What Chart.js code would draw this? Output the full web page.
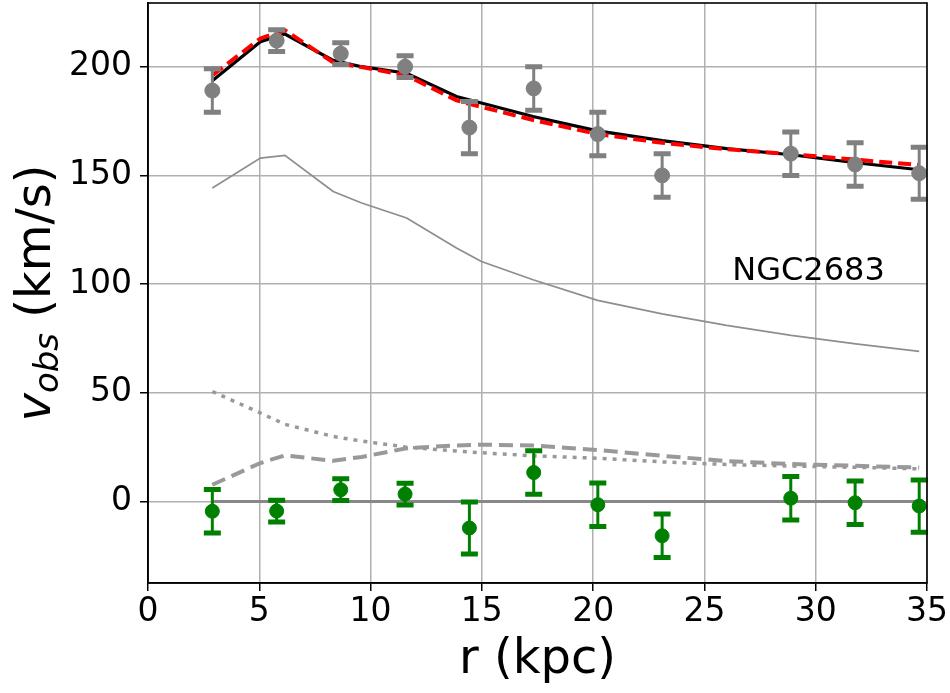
<!DOCTYPE html>
<html>
<head>
<meta charset="utf-8">
<script src="https://cdn.jsdelivr.net/npm/chart.js@4"></script>
<style>
  html, body { margin: 0; padding: 0; background: #fff; }
</style>
</head>
<body>
<canvas id="rcChart" width="950" height="693"></canvas>
<script>
// observed points (kpc, km/s)
const obsR = [2.89, 5.78, 8.66, 11.55, 14.44, 17.33, 20.21, 23.1, 28.88, 31.77, 34.65];
const obsV = [189, 212, 206, 200, 172, 190, 169, 150, 160, 155, 151];
const obsErr = [10, 5, 5, 5, 12, 10, 10, 10, 10, 10, 12];
// residuals obs - model
const resV = [-4.5, -4.4, 5.4, 3.4, -12.2, 13.3, -1.5, -15.8, 1.5, -0.6, -2.1];

// model curves
const modelR = [2.89, 5.05, 6.15, 8.32, 9.6, 11.62, 13.86, 14.98, 17.3, 20.2, 23.1, 26.0, 28.9, 31.8, 34.65];
const totalFit = [193.5, 211.5, 215, 202.9, 200, 197, 186.3, 183.3, 177.1, 170.5, 166, 162.3, 159.5, 155.8, 152.6];
const totalAlt = [196, 213, 216.8, 202, 199.8, 196, 184.5, 181.5, 175.5, 169, 165, 162, 159.8, 157.2, 154.8];
const thinCurve = [144.2, 158, 159.2, 142.6, 137.3, 130.4, 116.6, 110.4, 102, 92.5, 86.3, 81, 76.4, 72.5, 69];
const dottedCurve = [50.6, 40.7, 35.5, 29.9, 27.8, 25, 23.2, 22.4, 21, 19.9, 18.2, 17, 16.3, 15.7, 15];
const dashedCurve = [7.7, 17.7, 21.2, 18.7, 20.5, 24.5, 25.8, 26.1, 25.8, 23.7, 21, 18.6, 17.2, 16.4, 15.6];

const galaxyName = 'NGC2683';

const pts = (xs, ys) => xs.map((x, i) => ({ x: x, y: ys[i] }));

Chart.defaults.font.family = '"DejaVu Sans"';
Chart.defaults.color = '#000';

// error bars drawn on top of the markers
const errorBars = {
  id: 'errorBars',
  afterDatasetsDraw(chart) {
    const { ctx, scales: { x, y } } = chart;
    chart.data.datasets.forEach(ds => {
      if (!ds.errors) return;
      ctx.save();
      ctx.strokeStyle = ds.borderColor;
      ds.data.forEach((p, i) => {
        const px = x.getPixelForValue(p.x);
        const top = y.getPixelForValue(p.y + ds.errors[i]);
        const bot = y.getPixelForValue(p.y - ds.errors[i]);
        ctx.lineWidth = 3;
        ctx.beginPath();
        ctx.moveTo(px, top);
        ctx.lineTo(px, bot);
        ctx.stroke();
        ctx.lineWidth = 5;
        ctx.beginPath();
        ctx.moveTo(px - 8.5, top); ctx.lineTo(px + 8.5, top);
        ctx.moveTo(px - 8.5, bot); ctx.lineTo(px + 8.5, bot);
        ctx.stroke();
      });
      ctx.restore();
    });
  }
};

// box, galaxy name, y title
const extras = {
  id: 'extras',
  afterDraw(chart) {
    const { ctx, chartArea: a, scales: { x, y } } = chart;
    ctx.save();
    ctx.strokeStyle = '#000';
    ctx.lineWidth = 1.6;
    ctx.strokeRect(a.left, a.top, a.right - a.left, a.bottom - a.top);

    ctx.fillStyle = '#000';
    ctx.font = '32px "DejaVu Sans"';
    ctx.textBaseline = 'alphabetic';
    ctx.fillText(galaxyName, x.getPixelForValue(26.25), y.getPixelForValue(102));

    ctx.translate(50, (a.top + a.bottom) / 2);
    ctx.rotate(-Math.PI / 2);
    const f1 = 'italic 48px "DejaVu Sans"';
    const f2 = 'italic 34px "DejaVu Sans"';
    const f3 = '48px "DejaVu Sans"';
    ctx.font = f1; const w1 = ctx.measureText('v').width;
    ctx.font = f2; const w2 = ctx.measureText('obs').width;
    ctx.font = f3; const w3 = ctx.measureText(' (km/s)').width;
    let pos = -(w1 + w2 + w3) / 2;
    ctx.font = f1; ctx.fillText('v', pos, 0); pos += w1;
    ctx.font = f2; ctx.fillText('obs', pos, 8); pos += w2;
    ctx.font = f3; ctx.fillText(' (km/s)', pos, 0);
    ctx.restore();
  }
};

const ctx = document.getElementById('rcChart').getContext('2d');
new Chart(ctx, {
  type: 'line',
  data: {
    datasets: [
      { data: pts(modelR, thinCurve), borderColor: '#8e8e8e', borderWidth: 1.8, pointRadius: 0, order: 9 },
      { data: pts(modelR, dottedCurve), borderColor: '#999999', borderWidth: 3.5, borderDash: [4, 6], pointRadius: 0, order: 8 },
      { data: pts(modelR, dashedCurve), borderColor: '#999999', borderWidth: 4, borderDash: [14, 7], pointRadius: 0, order: 7 },
      { data: pts([obsR[0], obsR[obsR.length - 1]], [0, 0]), borderColor: '#888888', borderWidth: 3, pointRadius: 0, order: 6 },
      { data: pts(modelR, totalFit), borderColor: '#000000', borderWidth: 3.2, pointRadius: 0, order: 5 },
      { data: pts(modelR, totalAlt), borderColor: '#ff0000', borderWidth: 4, borderDash: [13, 6], pointRadius: 0, order: 4 },
      { data: pts(obsR, obsV), errors: obsErr, showLine: false, borderColor: '#808080',
        pointBackgroundColor: '#808080', pointBorderColor: '#808080', pointRadius: 7.5, order: 2 },
      { data: pts(obsR, resV), errors: obsErr, showLine: false, borderColor: '#008000',
        pointBackgroundColor: '#008000', pointBorderColor: '#008000', pointRadius: 7, order: 1 }
    ]
  },
  options: {
    responsive: false,
    animation: false,
    layout: { autoPadding: false, padding: { top: 3, right: 23, left: 0, bottom: 0 } },
    plugins: { legend: { display: false }, tooltip: { enabled: false } },
    scales: {
      x: {
        type: 'linear',
        min: 0,
        max: 35,
        ticks: { stepSize: 5, font: { size: 33 }, padding: 2, maxRotation: 0 },
        grid: { color: '#b0b0b0', lineWidth: 1.5, tickColor: '#000', tickLength: 8, tickWidth: 1.5 },
        border: { color: '#000', width: 1.6 },
        title: { display: true, text: 'r (kpc)', font: { size: 48 }, padding: { top: 0, bottom: 4 } },
        afterFit(scale) {
          scale.height = 110;
          scale.paddingLeft = 0;
          scale.paddingRight = 0;
        }
      },
      y: {
        min: -37.5,
        max: 229.3,
        ticks: { stepSize: 50, includeBounds: false, font: { size: 33 }, padding: 8 },
        grid: { color: '#b0b0b0', lineWidth: 1.5, tickColor: '#000', tickLength: 8, tickWidth: 1.5 },
        border: { color: '#000', width: 1.6 },
        afterFit(scale) {
          scale.width = 148;
          scale.paddingTop = 0;
          scale.paddingBottom = 0;
        }
      }
    }
  },
  plugins: [errorBars, extras]
});
</script>
</body>
</html>
